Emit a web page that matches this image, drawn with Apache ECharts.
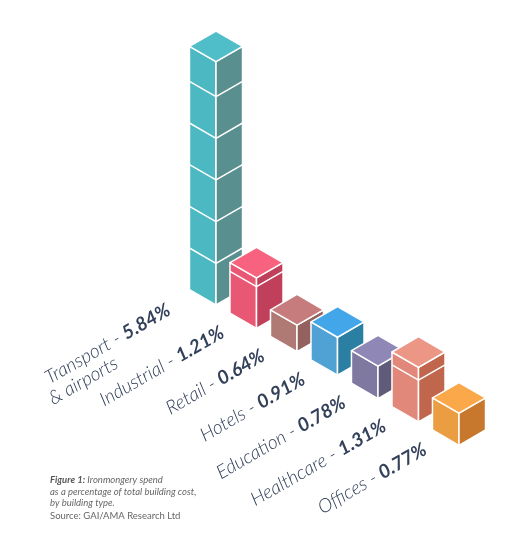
<!DOCTYPE html>
<html>
<head>
<meta charset="utf-8">
<script src="https://cdn.jsdelivr.net/npm/echarts@6/dist/echarts.min.js"></script>
<style>
html,body{margin:0;padding:0;background:#fff;}
#chart{width:508px;height:555px;}
</style>
</head>
<body>
<div id="chart"></div>
<script>
// ---- data ----
const categories = ['Transport', 'Industrial', 'Retail', 'Hotels', 'Education', 'Healthcare', 'Offices'];
const subLabels = ['& airports', '', '', '', '', '', ''];
const values = [5.84, 1.21, 0.64, 0.91, 0.78, 1.31, 0.77];
const topColors = ['#50bec9', '#f7637e', '#c67b7c', '#43a6e8', '#8f88b6', '#ec9686', '#fba84a'];
const frontColors = ['#4cb8c2', '#e85874', '#b07a74', '#4fa2d3', '#7f78a0', '#e2887a', '#eb9d42'];
const sideColors = ['#5a8f8f', '#c03f5a', '#94625e', '#2a7fa2', '#605b78', '#c0664c', '#c8782c'];
const footLines = [
  ['Figure 1:', ' Ironmongery spend'],
  ['', 'as a percentage of total building cost,'],
  ['', 'by building type.']
];
const sourceLine = 'Source: GAI/AMA Research Ltd';

// ---- chart ----
const TAN30 = Math.tan(Math.PI / 6);
const chart = echarts.init(document.getElementById('chart'));
const FONT = 'Lato';
const FS = 19;
const NAME_FONT = 'italic 300 ' + FS + 'px ' + FONT;
const VAL_FONT = 'italic bold ' + FS + 'px ' + FONT;
const measureCtx = document.createElement('canvas').getContext('2d');
function textWidth(str, font) {
  measureCtx.font = font;
  return measureCtx.measureText(str).width;
}

function renderItem(params, api) {
  const i = api.value(0);
  const v = api.value(1);
  const base = api.coord([i, 0]);
  const top = api.coord([i, v]);
  const x0 = api.coord([0, 0])[0];
  const shift = (base[0] - x0) * TAN30;
  const band = api.size([1, 0])[0];
  const w = band * 0.655;
  const h = w * TAN30;
  const cx = base[0];
  const by = base[1] + shift;
  const ty = top[1] + shift;
  const stroke = { stroke: '#ffffff', lineWidth: 1.5, lineJoin: 'round' };
  const children = [];
  children.push({
    type: 'polygon',
    shape: { points: [[cx - w, by - h], [cx, by], [cx, ty], [cx - w, ty - h]] },
    style: Object.assign({ fill: frontColors[i] }, stroke)
  });
  children.push({
    type: 'polygon',
    shape: { points: [[cx, by], [cx + w, by - h], [cx + w, ty - h], [cx, ty]] },
    style: Object.assign({ fill: sideColors[i] }, stroke)
  });
  children.push({
    type: 'polygon',
    shape: { points: [[cx, ty], [cx - w, ty - h], [cx, ty - 2 * h], [cx + w, ty - h]] },
    style: Object.assign({ fill: topColors[i] }, stroke)
  });
  for (let k = 1; k < v; k++) {
    const yk = api.coord([i, k])[1] + shift;
    children.push({
      type: 'polyline',
      shape: { points: [[cx - w, yk - h], [cx, yk], [cx + w, yk - h]] },
      style: { stroke: '#ffffff', lineWidth: 1.5, fill: null }
    });
  }
  // label: baseline right end anchored near bar foot
  const sub = subLabels[i];
  let ax = cx - 31, ay = by + 8;
  if (sub) {
    // two-line label block is set back along its baseline
    ax += -12 * Math.cos(Math.PI / 6) + 6 * -0.5;
    ay += 12 * Math.sin(Math.PI / 6) + 6 * -Math.cos(Math.PI / 6);
  }
  const namePart = categories[i] + ' - ';
  const valPart = v.toFixed(2) + '%';
  children.push({
    type: 'text',
    x: ax,
    y: ay,
    rotation: Math.PI / 6,
    style: {
      x: 0,
      y: -17,
      text: namePart + '{b|' + valPart + '}',
      align: 'right',
      verticalAlign: 'top',
      fill: '#33405a',
      font: NAME_FONT,
      lineHeight: 22,
      rich: {
        b: { fontFamily: FONT, fontStyle: 'italic', fontWeight: 'bold', fontSize: FS, fill: '#33405a', lineHeight: 22 }
      }
    }
  });
  if (sub) {
    const lineW = textWidth(namePart, NAME_FONT) + textWidth(valPart, VAL_FONT);
    children.push({
      type: 'text',
      x: ax,
      y: ay,
      rotation: Math.PI / 6,
      style: {
        x: -lineW - 7,
        y: -17 + 20,
        text: sub,
        align: 'left',
        verticalAlign: 'top',
        fill: '#33405a',
        font: NAME_FONT,
        lineHeight: 22
      }
    });
  }
  return { type: 'group', children: children };
}

const seriesData = categories.map((c, i) => [i, values[i]]);

const footGraphics = footLines.map((ln, j) => ({
  type: 'text',
  left: 50,
  top: 475 + j * 11.5,
  style: {
    text: (ln[0] ? '{f|' + ln[0] + '}' : '') + ln[1],
    font: 'italic 9.5px ' + FONT,
    fill: '#666666',
    rich: { f: { fontFamily: FONT, fontStyle: 'italic', fontWeight: 'bold', fontSize: 9.5, fill: '#555555' } }
  }
}));
footGraphics.push({
  type: 'text',
  left: 50,
  top: 511,
  style: { text: sourceLine, font: '9.5px ' + FONT, fill: '#666666' }
});

chart.setOption({
  animation: false,
  backgroundColor: '#ffffff',
  grid: { left: 195.75, width: 283.5, top: 55, height: 250 },
  xAxis: { type: 'category', data: categories, show: false },
  yAxis: { type: 'value', min: 0, max: 6, show: false },
  graphic: footGraphics,
  series: [{
    type: 'custom',
    renderItem: renderItem,
    data: seriesData,
    clip: false
  }]
});
</script>
</body>
</html>
